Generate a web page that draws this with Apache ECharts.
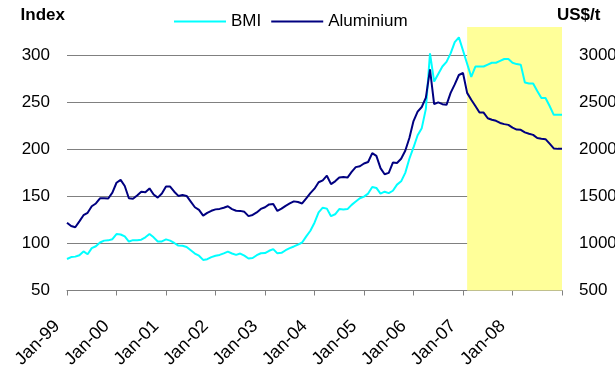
<!DOCTYPE html>
<html><head><meta charset="utf-8">
<script src="https://cdn.jsdelivr.net/npm/echarts@6/dist/echarts.min.js"></script>
<style>html,body{margin:0;padding:0;background:#fff}#c{width:615px;height:372px}</style>
</head><body><div id="c"></div>
<script>
const monthNames = ['Jan','Feb','Mar','Apr','May','Jun','Jul','Aug','Sep','Oct','Nov','Dec'];
const yearCodes = ['99','00','01','02','03','04','05','06','07','08','09'];
const tickLabels = ['Jan-99','Jan-00','Jan-01','Jan-02','Jan-03','Jan-04','Jan-05','Jan-06','Jan-07','Jan-08'];
const bmi = [
 83.5, 85.5, 86, 87.5, 91.5, 88.5, 95, 97, 101, 103,
 103.3, 104.5, 110, 109.5, 107.5, 102, 103.5, 103.5, 104, 106.5,
 110, 106.5, 102, 102.2, 104.3, 103, 100.5, 97.7, 97.5, 96.3,
 92.8, 89.3, 87, 82.5, 83.3, 85.5, 87, 87.8, 89.5, 91.3,
 89.3, 87.8, 89.3, 87, 84, 84.5, 87.5, 89.6, 89.8, 92.2,
 94, 89.5, 90, 92.8, 95, 96.8, 98.8, 101, 107.5, 113.5,
 122, 133, 138, 137, 129, 131, 136.5, 136, 136.5, 141,
 144.5, 148, 149.8, 153, 160, 159, 153, 155, 153.5, 156,
 162.5, 166, 175, 190, 202, 215, 222.5, 243, 302, 272,
 280, 288, 293, 302, 314, 319, 305, 291, 277, 288,
 288, 288, 290, 292, 292, 294, 296, 296, 292, 290.6,
 290, 271, 270, 270, 262, 254.5, 254.5, 246, 236.7, 236.7, 236.7
];
const aluminium = [
 1221, 1185, 1172, 1235, 1300, 1326, 1395, 1425, 1480, 1480,
 1478, 1540, 1645, 1675, 1610, 1480, 1475, 1510, 1550, 1545,
 1585, 1520, 1487, 1530, 1605, 1604, 1550, 1505, 1515, 1505,
 1445, 1385, 1356, 1295, 1325, 1347, 1362, 1367, 1380, 1395,
 1365, 1348, 1346, 1336, 1290, 1303, 1330, 1367, 1385, 1415,
 1420, 1345, 1370, 1400, 1425, 1447, 1440, 1425, 1480, 1535,
 1582, 1650, 1670, 1720, 1630, 1660, 1700, 1705, 1700, 1760,
 1811, 1820, 1850, 1865, 1960, 1930, 1800, 1735, 1750, 1860,
 1855, 1900, 1985, 2120, 2300, 2400, 2450, 2550, 2850, 2480,
 2500, 2480, 2473, 2600, 2690, 2790, 2811, 2600, 2527, 2460,
 2391, 2391, 2330, 2314, 2303, 2280, 2268, 2260, 2230, 2210,
 2207, 2180, 2165, 2154, 2120, 2112, 2108, 2060, 2010, 2005, 2005
];
const shadeStart = 'Feb-07';
const shadeEnd = 'Jan-09';

const categories = [];
for (const y of yearCodes) for (const m of monthNames) if (categories.length < bmi.length) categories.push(m + '-' + y);

const FONT = 'Liberation Sans, Arial, sans-serif';
const chart = echarts.init(document.getElementById('c'), null, {renderer: 'canvas'});
chart.setOption({
  animation: false,
  textStyle: {fontFamily: FONT},
  grid: {left: 67, right: 53, top: 27, bottom: 81.5, containLabel: false, outerBoundsMode: 'none'},
  legend: {
    left: 169, top: 8, itemWidth: 52, itemHeight: 2, itemGap: 10, icon: 'rect',
    textStyle: {fontSize: 17, color: '#000', fontFamily: FONT},
    data: ['BMI', 'Aluminium']
  },
  xAxis: {
    type: 'category', data: categories, boundaryGap: false,
    axisLine: {lineStyle: {color: '#808080', width: 1}},
    axisTick: {show: true, interval: 11, length: 5, lineStyle: {color: '#808080'}},
    axisLabel: {
      interval: 11, rotate: 45, margin: 23, padding: [0, 14, 0, 0], fontSize: 18, color: '#000', fontFamily: FONT,
      formatter: v => tickLabels.includes(v) ? v : ''
    },
    splitLine: {show: false}
  },
  yAxis: [{
    type: 'value', min: 50, max: 330, interval: 50, position: 'left',
    name: 'Index', nameLocation: 'end', nameGap: 3,
    nameTextStyle: {fontSize: 17, fontWeight: 'bold', color: '#000', align: 'right', padding: [0, 2, 0, 0], fontFamily: FONT},
    axisLine: {show: false}, axisTick: {show: false},
    axisLabel: {margin: 17, fontSize: 17, color: '#000', showMaxLabel: false, fontFamily: FONT},
    splitLine: {show: true, showMinLine: false, showMaxLine: false, lineStyle: {color: '#808080', width: 1}}
  }, {
    type: 'value', min: 500, max: 3300, interval: 500, position: 'right',
    name: 'US$/t', nameLocation: 'end', nameGap: 3,
    nameTextStyle: {fontSize: 17, fontWeight: 'bold', color: '#000', align: 'left', padding: [0, 0, 0, -5], fontFamily: FONT},
    axisLine: {show: false}, axisTick: {show: false},
    axisLabel: {margin: 17, fontSize: 17, color: '#000', showMaxLabel: false, fontFamily: FONT,
      formatter: v => String(v)},
    splitLine: {show: false}
  }],
  series: [{
    name: 'shade', type: 'line', data: [], z: 1, silent: true,
    markArea: {silent: true, itemStyle: {color: '#FFFF99', opacity: 1},
      data: [[{xAxis: shadeStart}, {xAxis: shadeEnd}]]}
  }, {
    name: 'BMI', type: 'line', data: bmi, yAxisIndex: 0, symbol: 'none', z: 3,
    lineStyle: {color: '#00FFFF', width: 2}, itemStyle: {color: '#00FFFF'}
  }, {
    name: 'Aluminium', type: 'line', data: aluminium, yAxisIndex: 1, symbol: 'none', z: 3,
    lineStyle: {color: '#000080', width: 2}, itemStyle: {color: '#000080'}
  }]
});
</script></body></html>
